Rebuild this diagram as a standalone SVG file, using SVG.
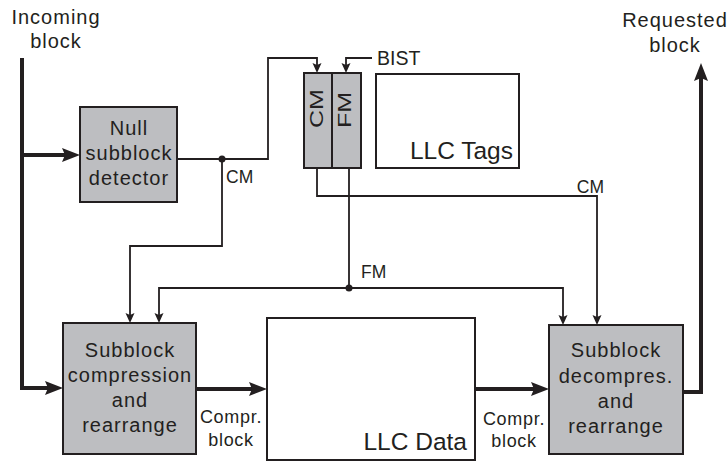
<svg xmlns="http://www.w3.org/2000/svg" width="728" height="461" viewBox="0 0 728 461">
<defs>
<style>
text{font-family:"Liberation Sans",Arial,sans-serif;fill:#231f20}
.lbl{font-size:20px;letter-spacing:1px;text-anchor:middle}
.sm{font-size:17.5px}
.cp{font-size:18px;letter-spacing:0.7px;text-anchor:middle}
.big{font-size:24.5px;text-anchor:end}
.rot{font-size:25px}
.gbox{fill:#bdbec1;stroke:#231f20;stroke-width:2}
.wbox{fill:#fff;stroke:#231f20;stroke-width:2}
.thick{fill:none;stroke:#231f20;stroke-width:4;marker-end:url(#ab)}
.thin{fill:none;stroke:#231f20;stroke-width:1.8;marker-end:url(#as)}
.wire{fill:none;stroke:#231f20;stroke-width:1.8}
</style>
<marker id="ab" markerUnits="userSpaceOnUse" markerWidth="18" markerHeight="16" refX="10" refY="8" orient="auto">
<path d="M0,1 L18,8 L0,15 L3,8 Z" fill="#231f20"/>
</marker>
<marker id="as" markerUnits="userSpaceOnUse" markerWidth="10" markerHeight="10" refX="5" refY="5" orient="auto">
<path d="M0,0.5 L10,5 L0,9.5 L2,5 Z" fill="#231f20"/>
</marker>
</defs>
<rect width="728" height="461" fill="#fff"/>

<g id="incoming-label">
<text class="lbl" x="56" y="24">Incoming</text>
<text class="lbl" x="56" y="48">block</text>
</g>
<g id="requested-label">
<text class="lbl" x="675" y="27">Requested</text>
<text class="lbl" x="675" y="52">block</text>
</g>

<g id="connectors">
<path class="thick" d="M22,58 V388 H55"/>
<path class="thick" d="M22,155 H72"/>
<path class="thick" d="M196,389 H259"/>
<path class="thick" d="M475,389 H541"/>
<path class="thick" d="M683,392 H701 V71"/>
<path class="thin" d="M177,159 H268 V58 H317 V68"/>
<path class="thin" d="M372,58 H346 V68"/>
<path class="thin" d="M222,159 V246 H130 V318"/>
<path class="wire" d="M349,168 V288"/>
<path class="thin" d="M349,288 H159 V318"/>
<path class="thin" d="M349,288 H563 V320"/>
<path class="thin" d="M317,168 V196 H597 V320"/>
<circle cx="222" cy="159" r="3.5" fill="#231f20"/>
<circle cx="349" cy="288" r="3.5" fill="#231f20"/>
<text class="sm" x="226" y="183">CM</text>
<text class="sm" x="361" y="278">FM</text>
<text class="sm" x="604" y="193" text-anchor="end">CM</text>
<text x="377" y="65" font-size="19.5">BIST</text>
<text class="cp" x="231" y="423">Compr.</text>
<text class="cp" x="231" y="446">block</text>
<text class="cp" x="514" y="425">Compr.</text>
<text class="cp" x="514" y="447">block</text>
</g>

<g id="null-detector">
<rect class="gbox" x="80" y="107" width="97" height="95"/>
<text class="lbl" x="129" y="135">Null</text>
<text class="lbl" x="129" y="160">subblock</text>
<text class="lbl" x="129" y="185">detector</text>
</g>

<g id="cm-fm">
<rect class="gbox" x="304" y="73" width="57" height="95"/>
<line x1="332" y1="73" x2="332" y2="168" stroke="#231f20" stroke-width="2"/>
<text class="rot" x="0" y="0" transform="translate(323,128) rotate(-90) scale(1,0.75)">CM</text>
<text class="rot" x="0" y="0" transform="translate(351,128) rotate(-90) scale(1,0.75)">FM</text>
</g>

<g id="llc-tags">
<rect class="wbox" x="376" y="74" width="143" height="94"/>
<text class="big" x="513" y="159" font-size="24">LLC Tags</text>
</g>

<g id="compression">
<rect class="gbox" x="63" y="323" width="133" height="131"/>
<text class="lbl" x="130" y="357">Subblock</text>
<text class="lbl" x="130" y="382">compression</text>
<text class="lbl" x="130" y="407">and</text>
<text class="lbl" x="130" y="432">rearrange</text>
</g>

<g id="llc-data">
<rect class="wbox" x="267" y="318" width="208" height="142"/>
<text class="big" x="467" y="450">LLC Data</text>
</g>

<g id="decompression">
<rect class="gbox" x="549" y="325" width="134" height="129"/>
<text class="lbl" x="616" y="357">Subblock</text>
<text class="lbl" x="616" y="383">decompres.</text>
<text class="lbl" x="616" y="408">and</text>
<text class="lbl" x="616" y="433">rearrange</text>
</g>
</svg>
